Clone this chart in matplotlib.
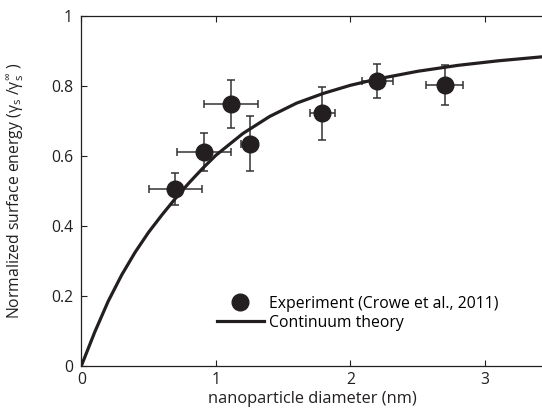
import numpy as np
import matplotlib
matplotlib.use('Agg')
import matplotlib.pyplot as plt

plt.rcParams['font.family'] = ['Open Sans', 'DejaVu Sans']
plt.rcParams['mathtext.fontset'] = 'custom'
plt.rcParams['mathtext.rm'] = 'Open Sans'
plt.rcParams['mathtext.it'] = 'Open Sans'

# experiment (Crowe et al., 2011)
exp_d = [0.70, 0.91, 1.11, 1.25, 1.79, 2.20, 2.70]
exp_g = [0.505, 0.612, 0.748, 0.635, 0.722, 0.815, 0.803]
exp_derr = [0.20, 0.20, 0.20, 0.065, 0.094, 0.113, 0.136]
exp_gerr = [0.046, 0.055, 0.069, 0.078, 0.076, 0.048, 0.057]

# continuum theory curve
th_d = [0, 0.1, 0.2, 0.3, 0.4, 0.5, 0.6, 0.7, 0.8, 0.9, 1.0, 1.2, 1.4,
        1.6, 1.8, 2.0, 2.2, 2.5, 2.8, 3.1, 3.5]
th_g = [0, 0.097, 0.185, 0.26, 0.325, 0.382, 0.432, 0.479, 0.523, 0.564,
        0.602, 0.664, 0.713, 0.751, 0.779, 0.802, 0.82, 0.842, 0.859,
        0.872, 0.886]

fig = plt.figure(figsize=(5.42, 4.12), dpi=100)
ax = fig.add_axes([0.15, 0.1117, 0.869, 0.8495])

dark = '#231f20'
fs = 11.3
ax.errorbar(exp_d, exp_g, xerr=exp_derr, yerr=exp_gerr, fmt='none',
            ecolor='#333333', elinewidth=1.1, capsize=2.6, capthick=1.1,
            zorder=2)
ax.plot(exp_d, exp_g, 'o', color=dark, ms=12, zorder=3,
        label='Experiment (Crowe et al., 2011)')
ax.plot(th_d, th_g, '-', color=dark, lw=2.3, zorder=4,
        label='Continuum theory')

ax.set_xlim(0, 3.5)
ax.set_ylim(0, 1)
ax.set_xticks([0, 1, 2, 3])
ax.set_xticklabels(['0', '1', '2', '3'])
ax.set_yticks([0, 0.2, 0.4, 0.6, 0.8, 1])
ax.set_yticklabels(['0', '0.2', '0.4', '0.6', '0.8', '1'])
ax.tick_params(direction='in', length=4, width=0.8, top=True, right=False,
               labelsize=fs, colors=dark)
ax.tick_params(axis='x', pad=4)
ax.tick_params(axis='y', pad=6)
for s in ax.spines.values():
    s.set_linewidth(0.9)
    s.set_color(dark)
ax.spines['right'].set_visible(False)

ax.set_xlabel('nanoparticle diameter (nm)', fontsize=11.8, color=dark)
ax.xaxis.set_label_coords(0.4897, -0.072)
ax.set_ylabel('Normalized surface energy (γ$_s$ /γ$_s^{\\infty}$ )',
              fontsize=fs, color=dark)
ax.yaxis.set_label_coords(-0.118, 0.5)

leg = ax.legend(loc='lower left', bbox_to_anchor=(0.2875, 0.1), frameon=False,
                fontsize=fs, handlelength=3.0, handletextpad=0.3,
                labelspacing=0.2, borderpad=0, borderaxespad=0)

fig.savefig('out.png', dpi=100)
